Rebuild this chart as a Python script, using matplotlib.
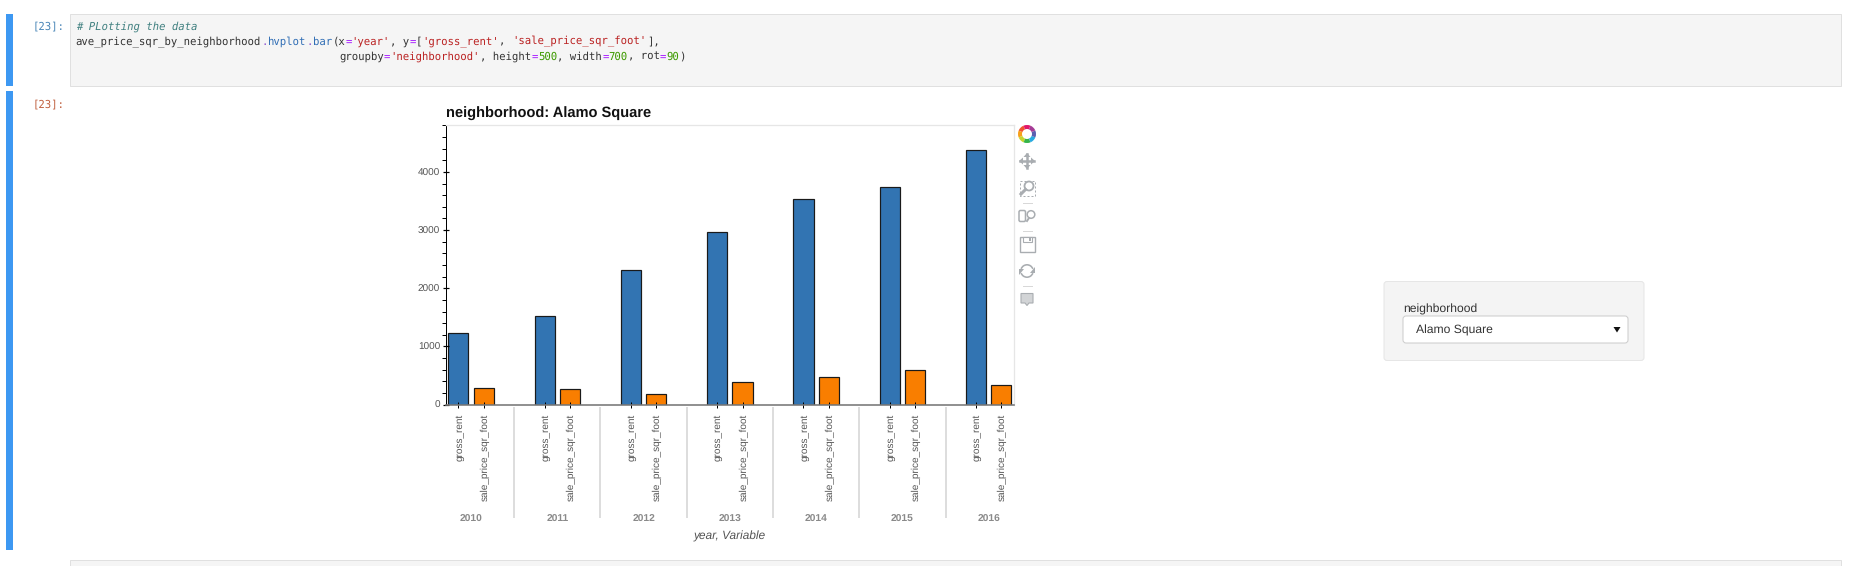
import numpy as np
import matplotlib
matplotlib.use("Agg")
import matplotlib.pyplot as plt
from matplotlib.patches import FancyBboxPatch, Rectangle, Wedge, Polygon, Circle
from matplotlib.ticker import MultipleLocator
from matplotlib.transforms import ScaledTranslation

W, H = 1850, 566
PX = 72 / 100  # points per pixel at dpi 100

years = ["2010", "2011", "2012", "2013", "2014", "2015", "2016"]
variables = ["gross_rent", "sale_price_sqr_foot"]
gross_rent = [1236, 1523, 2318, 2960, 3526, 3732, 4378]
sale_price = [292, 270, 178, 385, 481, 601, 333]
yticks = [0, 1000, 2000, 3000, 4000]

code_comment = "# PLotting the data"
code_line1 = [("ave_price_sqr_by_neighborhood", "#333333"), (".", "#8a4fd0"), ("hvplot", "#2f6db5"), (".", "#8a4fd0"),
              ("bar", "#2f6db5"), ("(x", "#333333"), ("=", "#aa22ff"), ("'year'", "#ba2121"), (", y", "#333333"),
              ("=", "#aa22ff"), ("[", "#333333"), ("'gross_rent'", "#ba2121"), (", ", "#333333"),
              ("'sale_price_sqr_foot'", "#ba2121"), ("],", "#333333")]
code_line2 = [("groupby", "#333333"), ("=", "#aa22ff"), ("'neighborhood'", "#ba2121"), (", height", "#333333"),
              ("=", "#aa22ff"), ("500", "#3d9a00"), (", width", "#333333"), ("=", "#aa22ff"), ("700", "#3d9a00"),
              (", rot", "#333333"), ("=", "#aa22ff"), ("90", "#3d9a00"), (")", "#333333")]

plt.rcParams["font.family"] = ["Liberation Sans", "DejaVu Sans"]
plt.rcParams["text.hinting"] = "no_hinting"
fig = plt.figure(figsize=(W / 100, H / 100), dpi=100, facecolor="white")

# page layer in pixel coordinates
bg = fig.add_axes([0, 0, 1, 1], zorder=0)
bg.set_xlim(0, W)
bg.set_ylim(H, 0)
bg.axis("off")


def box(x0, y0, x1, y1, fc, ec, lw=1.0, z=1):
    bg.add_patch(Rectangle((x0, y0), x1 - x0, y1 - y0, fc=fc, ec=ec, lw=lw * PX, zorder=z))


def code(x, y, parts, col0=0):
    n = col0
    for txt, col in parts:
        bg.text(x + n * 6.42, y, txt, color=col, family="DejaVu Sans Mono", fontsize=7.68, va="center", ha="left", zorder=3)
        n += len(txt)


# notebook cells
bg.add_patch(Rectangle((6, 14), 6.5, 72, fc="#3d98f2", ec="none"))
bg.add_patch(Rectangle((6, 91), 6.5, 459, fc="#3d98f2", ec="none"))
box(70, 14, 1841, 85.5, "#f5f5f5", "#e0e0e0")
box(70, 559.5, 1841, 580, "#f5f5f5", "#e0e0e0")
bg.text(65, 26.5, "[23]:", color="#4a86b8", family="DejaVu Sans Mono", fontsize=7.68, ha="right", va="center")
bg.text(65, 104, "[23]:", color="#c0603f", family="DejaVu Sans Mono", fontsize=7.68, ha="right", va="center")
bg.text(75.7, 26.7, code_comment, color="#408080", family="DejaVu Sans Mono", style="italic", fontsize=7.68, va="center")
code(75.7, 41.7, code_line1)
code(75.7, 56.7, code_line2, col0=41)

# widget box
bg.add_patch(FancyBboxPatch((1386, 283.5), 256, 75, boxstyle="round,pad=2,rounding_size=3", fc="#f4f4f4", ec="#e6e6e6", lw=PX))
bg.add_patch(FancyBboxPatch((1405, 318), 221, 23, boxstyle="round,pad=2,rounding_size=3", fc="white", ec="#cccccc", lw=PX))
bg.text(1403.5, 309, "neighborhood", fontsize=8.7, color="#333333", va="center")
bg.text(1415.5, 330.5, "Alamo Square", fontsize=8.7, color="#333333", va="center")
bg.add_patch(Polygon([(1613.5, 327), (1620.5, 327), (1617, 332.5)], fc="#111111", ec="none"))

# toolbar
logo = ["#f0542e", "#f7a11b", "#c5d52f", "#35b44a", "#27aae1", "#5c5fb0", "#a53c96", "#e0176a"]
for i, c in enumerate(logo):
    bg.add_patch(Wedge((1027, 134), 9, 180 - i * 45 + 22, 180 - i * 45 + 67, width=4, fc=c, ec="none"))
for yy in (202.5, 230.5, 285.5):
    bg.plot([1022.5, 1031.5], [yy, yy], color="#d8d8d8", lw=PX)
bg.plot([1014, 1014], [148, 175], color="#5ab0e6", lw=PX)
bg.plot([1014, 1014], [285, 312], color="#5ab0e6", lw=PX)
G = "#a9adb1"
bg.plot([1020, 1034], [161, 161], color=G, lw=1.8)
bg.plot([1027, 1027], [154, 168], color=G, lw=1.8)
for p in ([(1019, 161), (1023, 157.5), (1023, 164.5)], [(1035, 161), (1031, 157.5), (1031, 164.5)],
          [(1027, 153), (1023.5, 157), (1030.5, 157)], [(1027, 169), (1023.5, 165), (1030.5, 165)]):
    bg.add_patch(Polygon(p, fc=G, ec="none"))
bg.add_patch(Rectangle((1019.5, 180.5), 15, 15, fc="none", ec=G, lw=PX, ls=(0, (2, 2))))
bg.add_patch(Circle((1029, 186), 4.5, fc="white", ec=G, lw=1.3))
bg.plot([1025.5, 1021], [189.5, 194], color=G, lw=2.2)
bg.add_patch(FancyBboxPatch((1020.5, 212), 3.5, 8, boxstyle="round,pad=1.5", fc="white", ec=G, lw=1.1))
bg.add_patch(Circle((1031, 214.5), 3.8, fc="white", ec=G, lw=1.1))
bg.plot([1029, 1027], [218, 221], color=G, lw=1.4)
bg.add_patch(Rectangle((1019.5, 236.5), 15, 15, fc="white", ec=G, lw=1))
bg.add_patch(Rectangle((1023, 236.5), 9, 5, fc="white", ec=G, lw=0.8))
bg.add_patch(Rectangle((1028.5, 237.5), 2, 3, fc=G, ec="none"))
bg.add_patch(Wedge((1027, 271), 7, 20, 160, width=1.6, fc=G, ec="none"))
bg.add_patch(Wedge((1027, 271), 7, 200, 340, width=1.6, fc=G, ec="none"))
bg.add_patch(Polygon([(1035, 273), (1030, 273), (1035, 267)], fc=G, ec="none"))
bg.add_patch(Polygon([(1019, 269), (1024, 269), (1019, 275)], fc=G, ec="none"))
bg.add_patch(Polygon([(1021, 293.5), (1033, 293.5), (1033, 303), (1029, 303), (1027, 305.5), (1025, 303), (1021, 303)],
                     fc="#d2d4d6", ec=G, lw=0.8))

# chart
x0, x1, ytop, ybot = 445.7, 1014, 125.3, 404.7
ax = fig.add_axes([x0 / W, 1 - ybot / H, (x1 - x0) / W, (ybot - ytop) / H], zorder=2)
ax.patch.set_alpha(0)

spacing = 3.41
group_x = np.arange(len(years)) * spacing
ax.bar(group_x, gross_rent, width=0.8, color="#3274b2", edgecolor="#1a1a1a", linewidth=PX * 1.2)
ax.bar(group_x + 1, sale_price, width=0.8, color="#f97e00", edgecolor="#1a1a1a", linewidth=PX * 1.2)
ax.set_xlim(-0.5, group_x[-1] + 1.5)
ax.set_ylim(0, 4800)

tick_x = np.concatenate([[g, g + 1] for g in group_x])
ax.set_xticks(tick_x)
ax.set_xticklabels(variables * len(years), rotation=90, fontsize=7.2, color="#555555")
ax.tick_params(axis="x", direction="inout", length=5, width=PX, pad=4, color="black")
ax.set_yticks(yticks)
ax.yaxis.set_minor_locator(MultipleLocator(200))
ax.tick_params(axis="y", which="major", direction="inout", length=5, width=PX * 1.2, labelsize=7.2, labelcolor="#555555", pad=1.5)
ax.tick_params(axis="y", which="minor", direction="out", length=2.7, width=PX)
nudge = ScaledTranslation(1.2 / 100, 0, fig.dpi_scale_trans)
for lab in ax.get_xticklabels():
    lab.set_verticalalignment("top")
    lab.set_transform(lab.get_transform() + nudge)

for s in ("top", "right"):
    ax.spines[s].set_color("#e6e6e6")
    ax.spines[s].set_linewidth(PX * 1.3)
ax.spines["left"].set_color("black")
ax.spines["left"].set_linewidth(PX)
ax.spines["bottom"].set_color("#777777")
ax.spines["bottom"].set_linewidth(PX * 1.6)

ax.text(0, 1 + 11.8 / 279.4, "neighborhood: Alamo Square", transform=ax.transAxes, fontsize=10.5, fontweight="bold",
        color="#111111", va="center", ha="left")

# group separators and year labels under the axis
tr = ax.get_xaxis_transform()
for i, g in enumerate(group_x):
    ax.text(g + 0.5, -114.5 / 279.4, years[i], transform=tr, fontsize=7.4, fontweight="bold", color="#8a8a8a",
            ha="center", va="center")
    if i < len(years) - 1:
        sx = g + 1 + (spacing - 1) / 2
        ax.plot([sx, sx], [-3 / 279.4, -112 / 279.4], transform=tr, color="#dddddd", lw=2 * PX, clip_on=False)
ax.text(0.5, -132 / 279.4, "year, Variable", transform=ax.transAxes, fontsize=8.6, style="italic", color="#555555",
        ha="center", va="center")

fig.savefig("out.png", dpi=100)
